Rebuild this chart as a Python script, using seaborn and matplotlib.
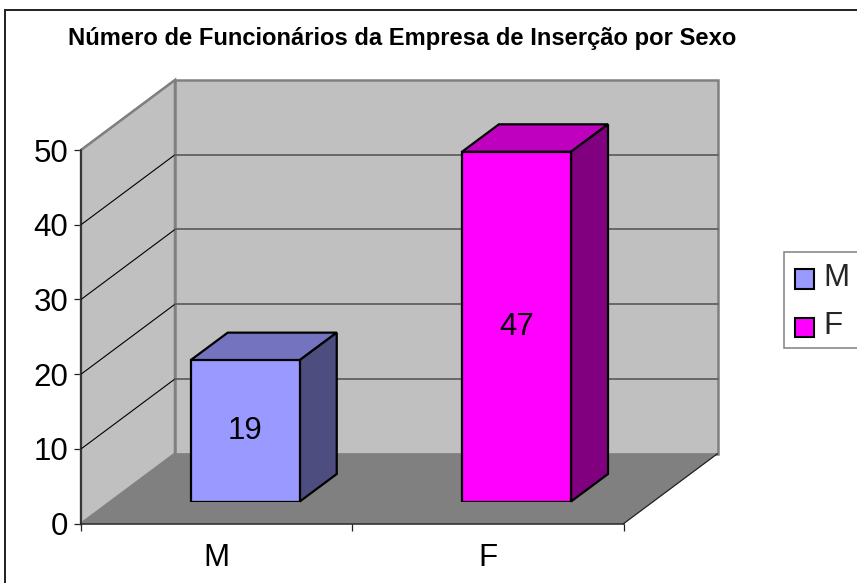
import matplotlib
matplotlib.use('Agg')
import matplotlib.pyplot as plt
from matplotlib.patches import Patch, Polygon, Rectangle
import seaborn as sns

sns.set_style('white')
plt.rcParams['font.family'] = ['Liberation Sans', 'DejaVu Sans']

# Dados
sexo = ['M', 'F']
funcionarios = [19, 47]
cores = ['#9999FF', '#FF00FF']
y_ticks = [0, 10, 20, 30, 40, 50]
titulo = 'Número de Funcionários da Empresa de Inserção por Sexo'

W, H = 857, 583
FONTE = 22.5


def caixa(x0, y_top, x1, y_bottom):
    # pixels da imagem -> posicao da axes
    return [x0 / W, 1 - y_bottom / H, (x1 - x0) / W, (y_bottom - y_top) / H]


def escurecer(cor, f):
    r, g, b = matplotlib.colors.to_rgb(cor)
    return (r * f, g * f, b * f)


fig = plt.figure(figsize=(W / 100, H / 100), dpi=100, facecolor='white')

# moldura (so esquerda e topo aparecem, o resto foi cortado)
fig.add_artist(Rectangle((5 / W, -0.1), 1.1, 1.1 - 10 / H, transform=fig.transFigure,
                         fill=False, edgecolor='#202020', linewidth=1.4))

# plano da frente: eixos, paredes e chao
ax = fig.add_axes(caixa(81, 150, 623.5, 523.7))
ax.set_xlim(-0.5, 1.5)
ax.set_ylim(0, 50)
ax.patch.set_alpha(0)

dx, dy = 94 / 271.25, 70 / 7.47  # profundidade da parede
x0, x1 = -0.5, 1.5
y_max = y_ticks[-1]
ax.add_patch(Polygon([(x0, 0), (x0 + dx, dy), (x0 + dx, y_max + dy), (x0, y_max)],
                     facecolor='#C0C0C0', edgecolor='#808080', linewidth=1.8, clip_on=False, zorder=1))
ax.add_patch(Polygon([(x0 + dx, dy), (x1 + dx, dy), (x1 + dx, y_max + dy), (x0 + dx, y_max + dy)],
                     facecolor='#C0C0C0', edgecolor='#808080', linewidth=1.8, clip_on=False, zorder=1))
ax.add_patch(Polygon([(x0, 0), (x1, 0), (x1 + dx, dy), (x0 + dx, dy)],
                     facecolor='#808080', edgecolor='none', clip_on=False, zorder=2))
ax.plot([x1, x1 + dx], [0, dy], color='#202020', linewidth=0.9, clip_on=False, zorder=3)

for v in y_ticks[1:-1]:
    ax.plot([x0, x0 + dx], [v, v + dy], color='black', linewidth=0.8, clip_on=False, zorder=3)
    ax.plot([x0 + dx, x1 + dx], [v + dy, v + dy], color='#606060', linewidth=1.3, clip_on=False, zorder=3)
ax.plot([x0, x0 + dx], [y_max, y_max + dy], color='#808080', linewidth=1.3, clip_on=False, zorder=3)

ax.set_yticks(y_ticks)
ax.set_xticks([0, 1])
ax.set_xticklabels(sexo)
ax.set_xticks([-0.5, 0.5, 1.5], minor=True)
ax.tick_params(axis='x', which='major', length=0, pad=14, labelsize=FONTE, labelcolor='black')
ax.tick_params(axis='x', which='minor', bottom=True, length=5, width=0.9, color='#202020')
ax.tick_params(axis='y', left=True, length=5, width=0.9, color='#202020', pad=4, labelsize=FONTE, labelcolor='black')
for lado in ['top', 'right']:
    ax.spines[lado].set_visible(False)
for lado in ['left', 'bottom']:
    ax.spines[lado].set_color('#202020')
    ax.spines[lado].set_linewidth(1.1)
    ax.spines[lado].set_zorder(4)

# plano das barras, deslocado para dentro do chao
ax_b = fig.add_axes(caixa(109.6, 129.5, 652.1, 501.5))
ax_b.patch.set_alpha(0)
sns.barplot(x=sexo, y=funcionarios, hue=sexo, palette=cores, order=sexo, hue_order=sexo, width=0.402,
            saturation=1, dodge=False, legend=False, edgecolor='black', linewidth=1.6, ax=ax_b, zorder=5)
ax_b.set_xlim(-0.5, 1.5)
ax_b.set_ylim(0, 50)
ax_b.axis('off')

bdx, bdy = 37 / 271.25, 27.5 / 7.44  # profundidade das barras
for barra, cor in zip(ax_b.patches, cores):
    xa, xb = barra.get_x(), barra.get_x() + barra.get_width()
    topo = barra.get_height()
    ax_b.add_patch(Polygon([(xa, topo), (xb, topo), (xb + bdx, topo + bdy), (xa + bdx, topo + bdy)],
                           facecolor=escurecer(cor, 0.75), edgecolor='black', linewidth=1.6,
                           clip_on=False, zorder=4))
    ax_b.add_patch(Polygon([(xb, 0), (xb + bdx, bdy), (xb + bdx, topo + bdy), (xb, topo)],
                           facecolor=escurecer(cor, 0.5), edgecolor='black', linewidth=1.6,
                           clip_on=False, zorder=4))
for cont in ax_b.containers:
    ax_b.bar_label(cont, label_type='center', fontsize=FONTE, color='black', zorder=6)

fig.text(402 / W, 1 - 38.5 / H, titulo, ha='center', va='center', fontsize=17.1, fontweight='bold', color='black')

# legenda, a caixa passa da borda da imagem
fig.add_artist(Rectangle((783.7 / W, 1 - 348 / H), 0.2, 96 / H, transform=fig.transFigure,
                         facecolor='white', edgecolor='#808080', linewidth=1.1))
handles = [Patch(facecolor=c, edgecolor='black', linewidth=1.5, label=s) for c, s in zip(cores, sexo)]
leg = fig.legend(handles=handles, loc='upper left', bbox_to_anchor=(783.7 / W, 1 - 252 / H), fontsize=FONTE,
                 frameon=False, borderpad=0.36, borderaxespad=0,
                 handlelength=0.6, handleheight=0.6, handletextpad=0.3, labelspacing=0.58)
for p in leg.get_patches():
    p.set_y(p.get_y() - 3)

fig.savefig('out.png', dpi=100)
